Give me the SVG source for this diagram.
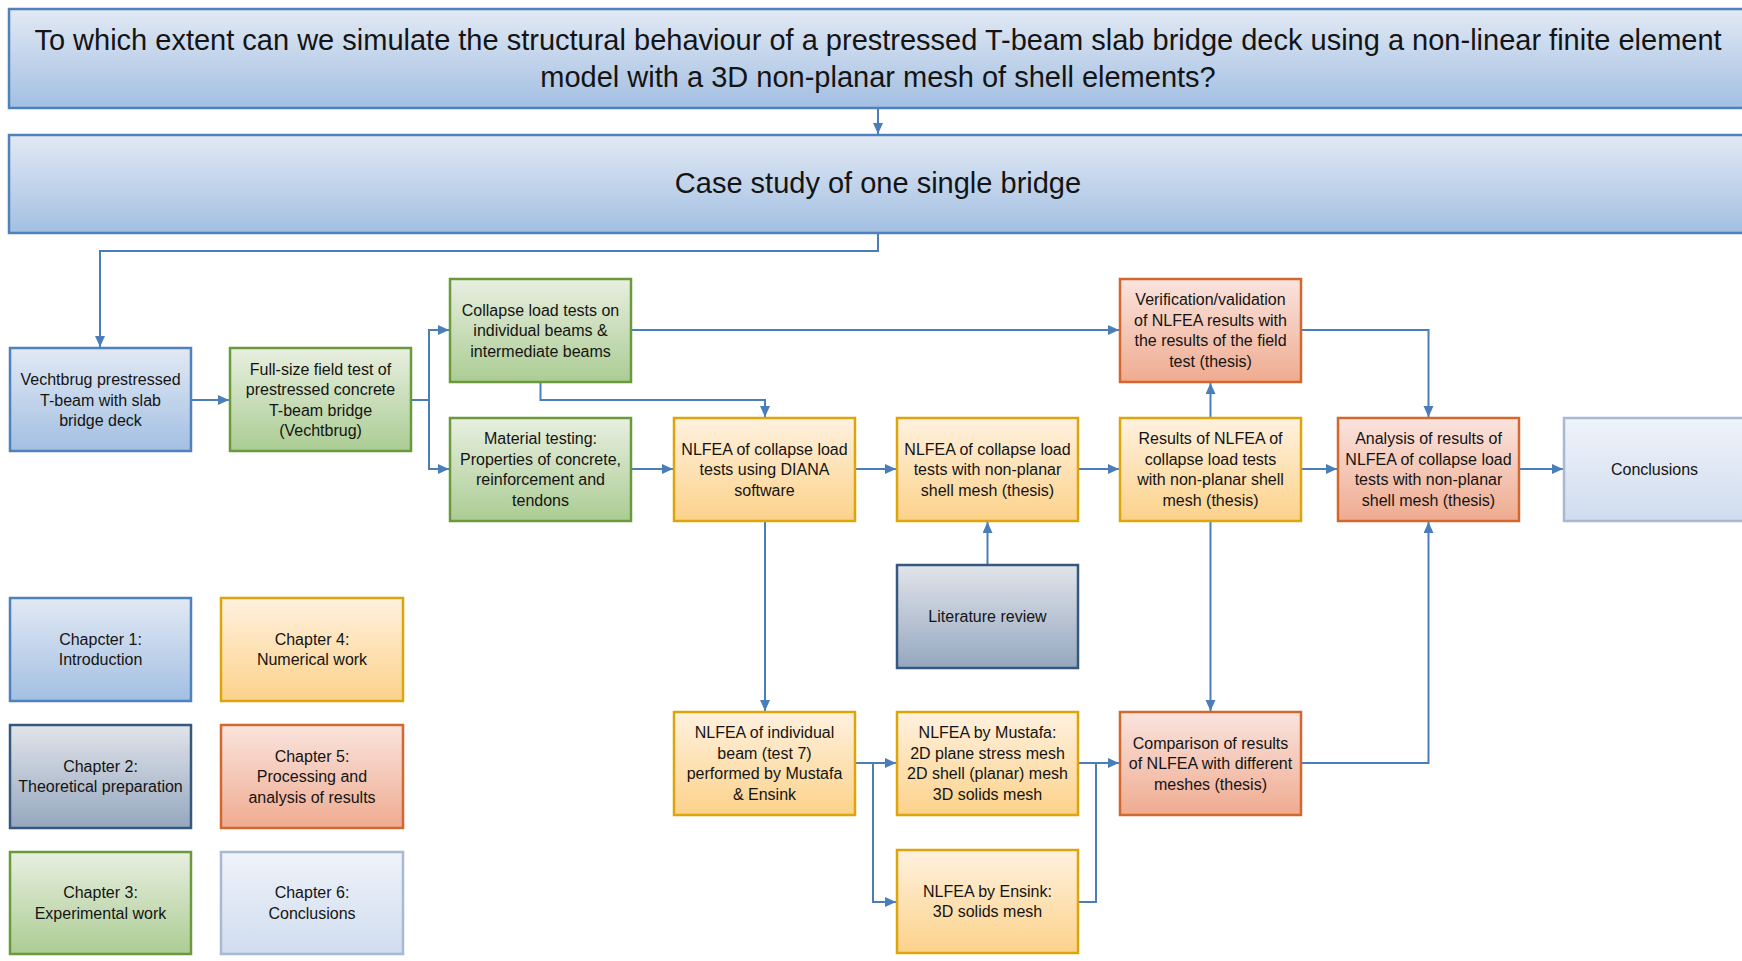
<svg xmlns="http://www.w3.org/2000/svg" width="1742" height="961" viewBox="0 0 1742 961">
<defs>
<linearGradient id="gBlue" x1="0" y1="0" x2="0" y2="1"><stop offset="0" stop-color="#e2e9f4"/><stop offset="1" stop-color="#a2bfe2"/></linearGradient>
<linearGradient id="gGreen" x1="0" y1="0" x2="0" y2="1"><stop offset="0" stop-color="#e8efe0"/><stop offset="1" stop-color="#abcc93"/></linearGradient>
<linearGradient id="gOrange" x1="0" y1="0" x2="0" y2="1"><stop offset="0" stop-color="#fff1df"/><stop offset="1" stop-color="#fcd28a"/></linearGradient>
<linearGradient id="gRed" x1="0" y1="0" x2="0" y2="1"><stop offset="0" stop-color="#fae4de"/><stop offset="1" stop-color="#efab90"/></linearGradient>
<linearGradient id="gSlate" x1="0" y1="0" x2="0" y2="1"><stop offset="0" stop-color="#e1e4ea"/><stop offset="1" stop-color="#95a7bf"/></linearGradient>
<linearGradient id="gLight" x1="0" y1="0" x2="0" y2="1"><stop offset="0" stop-color="#eff3fa"/><stop offset="1" stop-color="#d0dcee"/></linearGradient>
<marker id="arr" markerUnits="userSpaceOnUse" markerWidth="12" markerHeight="12" refX="11" refY="5" orient="auto"><path d="M0,0 L11,5 L0,10 z" fill="#4a7ebb"/></marker>
</defs>
<style>
.blue{fill:url(#gBlue);stroke:#4f81bd;stroke-width:2.5}
.green{fill:url(#gGreen);stroke:#6a9a3c;stroke-width:2.5}
.orange{fill:url(#gOrange);stroke:#dca60a;stroke-width:2.5}
.red{fill:url(#gRed);stroke:#d3682f;stroke-width:2.5}
.slate{fill:url(#gSlate);stroke:#35587f;stroke-width:2.5}
.light{fill:url(#gLight);stroke:#a7b9d3;stroke-width:2.5}
text{font-family:"Liberation Sans",Arial,sans-serif;fill:#141414;text-anchor:middle}
.t{font-size:16px}
.big{font-size:29px}
.c{fill:none;stroke:#4a7ebb;stroke-width:2}
.a{marker-end:url(#arr)}
</style>

<g id="connectors">
<path class="c a" d="M878,108 V134"/>
<path class="c a" d="M878,233 V251 H100 V347"/>
<path class="c a" d="M191,400 H229"/>
<path class="c a" d="M411,400 H429 V330 H449"/>
<path class="c a" d="M429,400 V469 H449"/>
<path class="c a" d="M631,330 H1119"/>
<path class="c a" d="M540.5,382 V400 H765 V417"/>
<path class="c a" d="M631,469 H673"/>
<path class="c a" d="M855,469 H896"/>
<path class="c a" d="M1078,469 H1119"/>
<path class="c a" d="M1301,469 H1337"/>
<path class="c a" d="M1519,469 H1563"/>
<path class="c a" d="M1210.5,418 V383"/>
<path class="c a" d="M1301,330 H1428.5 V417"/>
<path class="c a" d="M987.5,565 V522"/>
<path class="c a" d="M765,521 V711"/>
<path class="c a" d="M1210.5,521 V711"/>
<path class="c a" d="M1301,763 H1428.5 V522"/>
<path class="c a" d="M855,763 H896"/>
<path class="c a" d="M873,763 V902 H896"/>
<path class="c a" d="M1078,763 H1119"/>
<path class="c" d="M1078,902 H1096 V763"/>
</g>

<g id="question">
<rect class="blue" x="9" y="9" width="1745" height="99"/>
<text class="big" x="878" y="50">To which extent can we simulate the structural behaviour of a prestressed T-beam slab bridge deck using a non-linear finite element</text>
<text class="big" x="878" y="87">model with a 3D non-planar mesh of shell elements?</text>
</g>

<g id="casestudy">
<rect class="blue" x="9" y="135" width="1745" height="98"/>
<text class="big" x="878" y="193">Case study of one single bridge</text>
</g>

<g id="vechtbrug">
<rect class="blue" x="10" y="348" width="181" height="103"/>
<text class="t"><tspan x="100.5" y="385">Vechtbrug prestressed</tspan><tspan x="100.5" y="405.5">T-beam with slab</tspan><tspan x="100.5" y="426">bridge deck</tspan></text>
</g>

<g id="fieldtest">
<rect class="green" x="230" y="348" width="181" height="103"/>
<text class="t"><tspan x="320.5" y="374.75">Full-size field test of</tspan><tspan x="320.5" y="395.25">prestressed concrete</tspan><tspan x="320.5" y="415.75">T-beam bridge</tspan><tspan x="320.5" y="436.25">(Vechtbrug)</tspan></text>
</g>

<g id="collapse">
<rect class="green" x="450" y="279" width="181" height="103"/>
<text class="t"><tspan x="540.5" y="315.5">Collapse load tests on</tspan><tspan x="540.5" y="336">individual beams &amp;</tspan><tspan x="540.5" y="356.5">intermediate beams</tspan></text>
</g>

<g id="material">
<rect class="green" x="450" y="418" width="181" height="103"/>
<text class="t"><tspan x="540.5" y="444.25">Material testing:</tspan><tspan x="540.5" y="464.75">Properties of concrete,</tspan><tspan x="540.5" y="485.25">reinforcement and</tspan><tspan x="540.5" y="505.75">tendons</tspan></text>
</g>

<g id="diana">
<rect class="orange" x="674" y="418" width="181" height="103"/>
<text class="t"><tspan x="764.5" y="454.5">NLFEA of collapse load</tspan><tspan x="764.5" y="475">tests using DIANA</tspan><tspan x="764.5" y="495.5">software</tspan></text>
</g>

<g id="nonplanar">
<rect class="orange" x="897" y="418" width="181" height="103"/>
<text class="t"><tspan x="987.5" y="454.5">NLFEA of collapse load</tspan><tspan x="987.5" y="475">tests with non-planar</tspan><tspan x="987.5" y="495.5">shell mesh (thesis)</tspan></text>
</g>

<g id="results">
<rect class="orange" x="1120" y="418" width="181" height="103"/>
<text class="t"><tspan x="1210.5" y="444.25">Results of NLFEA of</tspan><tspan x="1210.5" y="464.75">collapse load tests</tspan><tspan x="1210.5" y="485.25">with non-planar shell</tspan><tspan x="1210.5" y="505.75">mesh (thesis)</tspan></text>
</g>

<g id="verification">
<rect class="red" x="1120" y="279" width="181" height="103"/>
<text class="t"><tspan x="1210.5" y="305.25">Verification/validation</tspan><tspan x="1210.5" y="325.75">of NLFEA results with</tspan><tspan x="1210.5" y="346.25">the results of the field</tspan><tspan x="1210.5" y="366.75">test (thesis)</tspan></text>
</g>

<g id="analysis">
<rect class="red" x="1338" y="418" width="181" height="103"/>
<text class="t"><tspan x="1428.5" y="444.25">Analysis of results of</tspan><tspan x="1428.5" y="464.75">NLFEA of collapse load</tspan><tspan x="1428.5" y="485.25">tests with non-planar</tspan><tspan x="1428.5" y="505.75">shell mesh (thesis)</tspan></text>
</g>

<g id="conclusions">
<rect class="light" x="1564" y="418" width="181" height="103"/>
<text class="t" x="1654.5" y="475">Conclusions</text>
</g>

<g id="literature">
<rect class="slate" x="897" y="565" width="181" height="103"/>
<text class="t" x="987.5" y="622">Literature review</text>
</g>

<g id="individual">
<rect class="orange" x="674" y="712" width="181" height="103"/>
<text class="t"><tspan x="764.5" y="738.25">NLFEA of individual</tspan><tspan x="764.5" y="758.75">beam (test 7)</tspan><tspan x="764.5" y="779.25">performed by Mustafa</tspan><tspan x="764.5" y="799.75">&amp; Ensink</tspan></text>
</g>

<g id="mustafa">
<rect class="orange" x="897" y="712" width="181" height="103"/>
<text class="t"><tspan x="987.5" y="738.25">NLFEA by Mustafa:</tspan><tspan x="987.5" y="758.75">2D plane stress mesh</tspan><tspan x="987.5" y="779.25">2D shell (planar) mesh</tspan><tspan x="987.5" y="799.75">3D solids mesh</tspan></text>
</g>

<g id="comparison">
<rect class="red" x="1120" y="712" width="181" height="103"/>
<text class="t"><tspan x="1210.5" y="748.5">Comparison of results</tspan><tspan x="1210.5" y="769">of NLFEA with different</tspan><tspan x="1210.5" y="789.5">meshes (thesis)</tspan></text>
</g>

<g id="ensink">
<rect class="orange" x="897" y="850" width="181" height="103"/>
<text class="t"><tspan x="987.5" y="896.75">NLFEA by Ensink:</tspan><tspan x="987.5" y="917.25">3D solids mesh</tspan></text>
</g>

<g id="legend-ch1">
<rect class="blue" x="10" y="598" width="181" height="103"/>
<text class="t"><tspan x="100.5" y="644.75">Chapcter 1:</tspan><tspan x="100.5" y="665.25">Introduction</tspan></text>
</g>
<g id="legend-ch2">
<rect class="slate" x="10" y="725" width="181" height="103"/>
<text class="t"><tspan x="100.5" y="771.75">Chapter 2:</tspan><tspan x="100.5" y="792.25">Theoretical preparation</tspan></text>
</g>
<g id="legend-ch3">
<rect class="green" x="10" y="852" width="181" height="102"/>
<text class="t"><tspan x="100.5" y="898.25">Chapter 3:</tspan><tspan x="100.5" y="918.75">Experimental work</tspan></text>
</g>
<g id="legend-ch4">
<rect class="orange" x="221" y="598" width="182" height="103"/>
<text class="t"><tspan x="312" y="644.75">Chapter 4:</tspan><tspan x="312" y="665.25">Numerical work</tspan></text>
</g>
<g id="legend-ch5">
<rect class="red" x="221" y="725" width="182" height="103"/>
<text class="t"><tspan x="312" y="761.5">Chapter 5:</tspan><tspan x="312" y="782">Processing and</tspan><tspan x="312" y="802.5">analysis of results</tspan></text>
</g>
<g id="legend-ch6">
<rect class="light" x="221" y="852" width="182" height="102"/>
<text class="t"><tspan x="312" y="898.25">Chapter 6:</tspan><tspan x="312" y="918.75">Conclusions</tspan></text>
</g>
</svg>
